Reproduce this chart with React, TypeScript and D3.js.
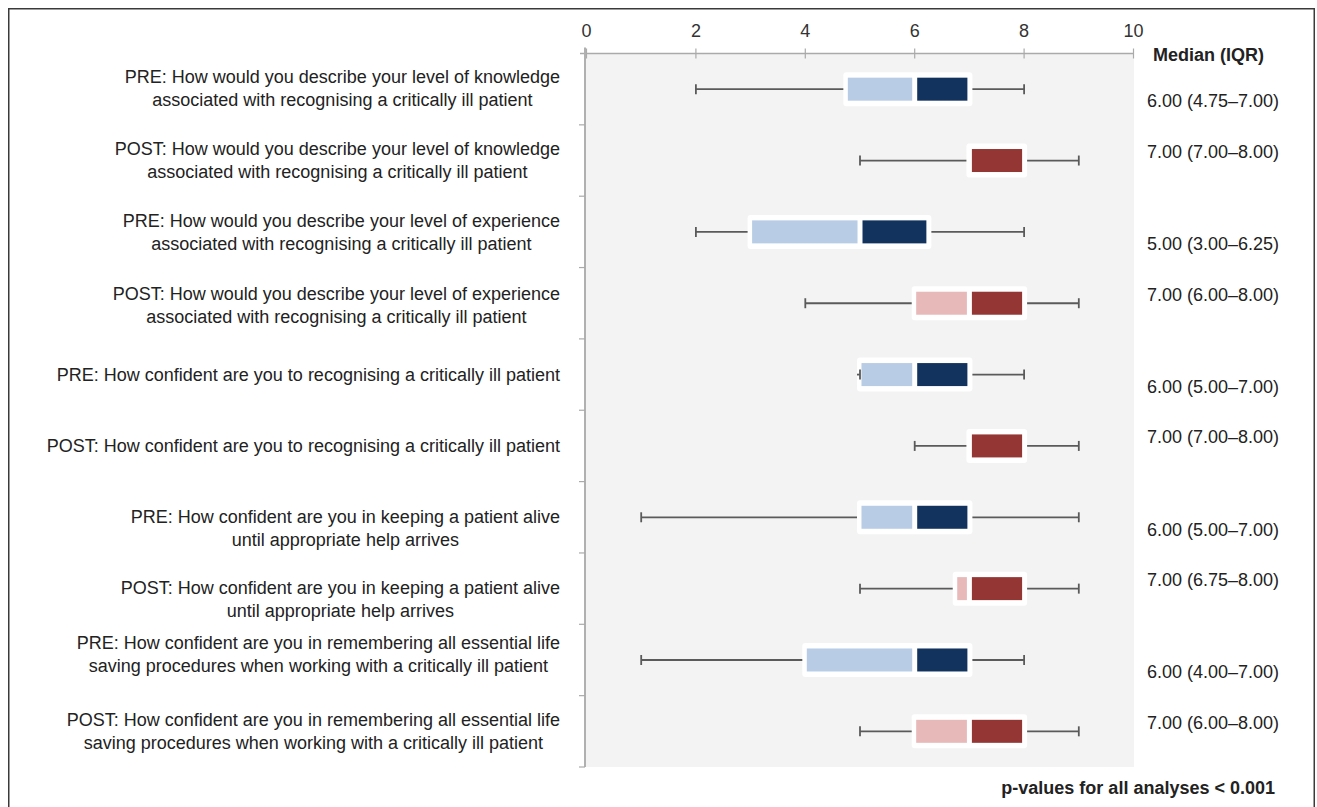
import React from "react";
import * as d3 from "d3";

const labels: string[][] = [
  ["PRE: How would you describe your level of knowledge", "associated with recognising a critically ill patient"],
  ["POST: How would you describe your level of knowledge", "associated with recognising a critically ill patient"],
  ["PRE: How would you describe your level of experience", "associated with recognising a critically ill patient"],
  ["POST: How would you describe your level of experience", "associated with recognising a critically ill patient"],
  ["PRE: How confident are you to recognising a critically ill patient"],
  ["POST: How confident are you to recognising a critically ill patient"],
  ["PRE: How confident are you in keeping a patient alive", "until appropriate help arrives"],
  ["POST: How confident are you in keeping a patient alive", "until appropriate help arrives"],
  ["PRE: How confident are you in remembering all essential life", "saving procedures when working with a critically ill patient"],
  ["POST: How confident are you in remembering all essential life", "saving procedures when working with a critically ill patient"],
];
const phase = ["PRE", "POST", "PRE", "POST", "PRE", "POST", "PRE", "POST", "PRE", "POST"];
const minVals = [2, 5, 2, 4, 5, 6, 1, 5, 1, 5];
const q1Vals = [4.75, 7, 3, 6, 5, 7, 5, 6.75, 4, 6];
const medianVals = [6, 7, 5, 7, 6, 7, 6, 7, 6, 7];
const q3Vals = [7, 8, 6.25, 8, 7, 8, 7, 8, 7, 8];
const maxVals = [8, 9, 8, 9, 8, 9, 9, 9, 8, 9];
const medianText = [
  "6.00 (4.75–7.00)", "7.00 (7.00–8.00)", "5.00 (3.00–6.25)", "7.00 (6.00–8.00)",
  "6.00 (5.00–7.00)", "7.00 (7.00–8.00)", "6.00 (5.00–7.00)", "7.00 (6.75–8.00)",
  "6.00 (4.00–7.00)", "7.00 (6.00–8.00)",
];
const xTicks = [0, 2, 4, 6, 8, 10];

// layout-only nudges of the left label blocks (px)
const labelShift = [-0.5, 0, 0, 2, 0, 0, 11, 11, -6, 0];

const FONT = "'Liberation Sans', Arial, Helvetica, sans-serif";
const FS = 18;
const colors: Record<string, [string, string]> = {
  PRE: ["#b8cce6", "#12335e"],
  POST: ["#e8b9b9", "#943634"],
};

function measure(text: string, size = FS): number {
  const c = document.createElement("canvas");
  const ctx = c.getContext("2d")!;
  ctx.font = `${size}px ${FONT}`;
  return ctx.measureText(text).width;
}

export default function App() {
  const W = 1317, H = 807;
  const plotL = 586, plotR = 1134, plotT = 53.5, plotB = 767;
  const x = d3.scaleLinear().domain([0, 10]).range([plotL + 0.5, plotR - 0.5]);
  const y = d3.scaleBand<number>().domain(d3.range(labels.length)).range([plotT, plotB]);
  const bw = y.bandwidth();
  const labelRight = 560;
  const lineH = 23;

  return (
    <svg width={W} height={H} style={{ position: "absolute", left: 0, top: 0 }} fontFamily={FONT}>
      <rect x={0} y={0} width={W} height={H} fill="#fff" />
      <rect x={8.75} y={8.75} width={1305.5} height={820} fill="none" stroke="#3a3a3a" strokeWidth={1.5} />
      {/* plot background */}
      <rect x={plotL} y={plotT} width={plotR - plotL} height={plotB - plotT} fill="#f3f3f3" />
      {/* top axis */}
      <line x1={580} x2={x(10)} y1={plotT} y2={plotT} stroke="#aaa" strokeWidth={1.5} />
      {xTicks.map((t) => (
        <g key={t}>
          <line x1={x(t)} x2={x(t)} y1={plotT - 5} y2={plotT + 5} stroke="#aaa" strokeWidth={1.2} />
          <text x={x(t)} y={31} dy="0.35em" textAnchor="middle" fontSize={FS} fill="#333">{t}</text>
        </g>
      ))}
      {/* left axis */}
      <line x1={585} x2={585} y1={plotT - 6} y2={plotB} stroke="#b0b0b0" strokeWidth={2} />
      {d3.range(1, labels.length + 1).map((i) => (
        <line key={i} x1={579} x2={585} y1={plotT + i * bw} y2={plotT + i * bw} stroke="#aaa" strokeWidth={1.2} />
      ))}
      {/* rows */}
      {labels.map((lines, i) => {
        const cy = (y(i) as number) + bw / 2;
        const p = phase[i];
        const [light, dark] = colors[p];
        const maxW = d3.max(lines, (l) => measure(l)) as number;
        const cx = labelRight - maxW / 2;
        const startY = cy + labelShift[i] - ((lines.length - 1) * lineH) / 2;
        const q1 = x(q1Vals[i]), med = x(medianVals[i]), q3 = x(q3Vals[i]);
        const mn = x(minVals[i]), mx = x(maxVals[i]);
        return (
          <g key={i}>
            {lines.map((l, j) => (
              <text key={j} x={cx} y={startY + j * lineH} dy="0.35em" textAnchor="middle" fontSize={FS} fill="#222">{l}</text>
            ))}
            {/* white halo */}
            <rect x={q1 - 3} y={cy - 17} width={q3 - q1 + 6} height={34} rx={3} fill="#fff" />
            {/* whiskers */}
            <line x1={mn} x2={q1 - 3} y1={cy} y2={cy} stroke="#5a5a5a" strokeWidth={1.8} />
            <line x1={q3 + 3} x2={mx} y1={cy} y2={cy} stroke="#5a5a5a" strokeWidth={1.8} />
            <line x1={mn} x2={mn} y1={cy - 5} y2={cy + 5} stroke="#5a5a5a" strokeWidth={1.8} />
            <line x1={mx} x2={mx} y1={cy - 5} y2={cy + 5} stroke="#5a5a5a" strokeWidth={1.8} />
            {/* boxes */}
            {med - q1 > 4 && (
              <rect x={q1 + 1.5} y={cy - 11.5} width={med - q1 - 4} height={23} fill={light} />
            )}
            {q3 - med > 4 && (
              <rect x={med + 2.5} y={cy - 11.5} width={q3 - med - 4.5} height={23} fill={dark} />
            )}
            <text x={1147} y={cy + (p === "PRE" ? 12 : -9)} dy="0.35em" fontSize={FS} fill="#222">{medianText[i]}</text>
          </g>
        );
      })}
      <text x={1153} y={55} dy="0.35em" fontSize={FS} fontWeight="bold" fill="#222">Median (IQR)</text>
      <text x={1275} y={788} dy="0.35em" textAnchor="end" fontSize={FS} fontWeight="bold" fill="#222">p-values for all analyses &lt; 0.001</text>
    </svg>
  );
}
